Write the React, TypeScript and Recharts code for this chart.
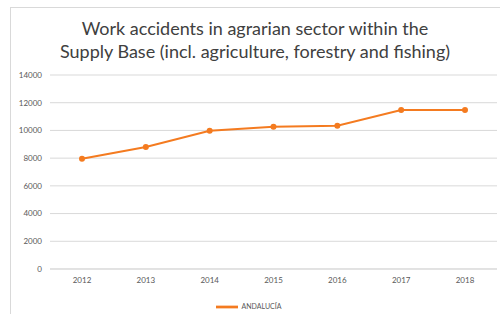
import React from "react";
import { LineChart, Line, XAxis, YAxis, CartesianGrid, Legend } from "recharts";

const years = ["2012", "2013", "2014", "2015", "2016", "2017", "2018"];
const andalucia = [7950, 8800, 9980, 10270, 10340, 11470, 11470];
const yTicks = [0, 2000, 4000, 6000, 8000, 10000, 12000, 14000];

const data = years.map((y, i) => ({ year: y, ANDALUCÍA: andalucia[i] }));

const FONT = "Lato, 'Open Sans', 'Liberation Sans', sans-serif";

export default function App() {
  return (
    <div style={{ position: "absolute", left: 0, top: 0, width: 500, height: 314, overflow: "hidden", background: "#fff", fontFamily: FONT }}>
      <style>{`html,body{margin:0;padding:0;overflow:hidden;}`}</style>
      <div style={{ position: "absolute", left: 10, top: 7, width: 480, height: 1, background: "#d9d9d9" }} />
      <div style={{ position: "absolute", left: 10, top: 7, width: 1, height: 307, background: "#d9d9d9" }} />
      <div style={{ position: "absolute", left: 490, top: 7, width: 10, height: 1, background: "#d9d9d9" }} />
      <div style={{ position: "absolute", left: 10, top: 17, width: 490, textAlign: "center", fontSize: 18, lineHeight: "23px", color: "#404040" }}>
        Work accidents in agrarian sector within the
        <br />
        Supply Base (incl. agriculture, forestry and fishing)
      </div>
      <div style={{ position: "absolute", left: 0, top: 0 }}>
        <LineChart width={500} height={314} data={data} margin={{ top: 75, right: 3, bottom: 6, left: 10 }}>
          <CartesianGrid vertical={false} stroke="#d9d9d9" />
          <XAxis
            dataKey="year"
            axisLine={{ stroke: "#d9d9d9" }}
            tickLine={false}
            padding={{ left: 32, right: 32 }}
            tick={{ fontSize: 8, fill: "#595959", fontFamily: FONT }}
            height={27}
          />
          <YAxis
            width={40}
            domain={[0, 14000]}
            ticks={yTicks}
            axisLine={false}
            tickLine={false}
            tick={{ fontSize: 8, fill: "#595959", fontFamily: FONT }}
          />
          <Legend
            verticalAlign="bottom"
            height={12}
            iconType="plainline"
            iconSize={22}
            wrapperStyle={{ fontSize: 7, color: "#595959", fontFamily: FONT }}
            formatter={(v: string) => <span style={{ color: "#595959" }}>{v}</span>}
          />
          <Line
            type="linear"
            dataKey="ANDALUCÍA"
            stroke="#F47B20"
            strokeWidth={2}
            dot={{ r: 2, fill: "#F47B20", stroke: "#F47B20" }}
            isAnimationActive={false}
          />
        </LineChart>
      </div>
    </div>
  );
}
